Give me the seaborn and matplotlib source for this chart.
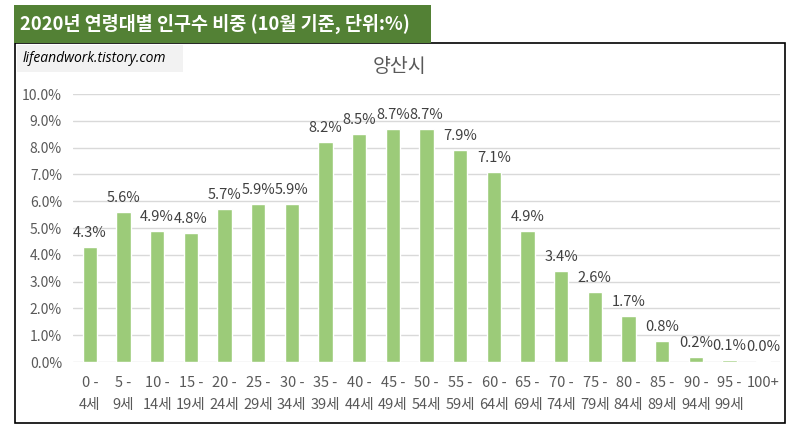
import matplotlib
matplotlib.use("Agg")
import matplotlib.pyplot as plt
import seaborn as sns
import pandas as pd
from matplotlib.patches import Rectangle

categories = ["0 -\n4세", "5 -\n9세", "10 -\n14세", "15 -\n19세", "20 -\n24세", "25 -\n29세",
              "30 -\n34세", "35 -\n39세", "40 -\n44세", "45 -\n49세", "50 -\n54세", "55 -\n59세",
              "60 -\n64세", "65 -\n69세", "70 -\n74세", "75 -\n79세", "80 -\n84세", "85 -\n89세",
              "90 -\n94세", "95 -\n99세", "100+"]
values = [4.3, 5.6, 4.9, 4.8, 5.7, 5.9, 5.9, 8.2, 8.5, 8.7, 8.7, 7.9, 7.1, 4.9, 3.4, 2.6,
          1.7, 0.8, 0.2, 0.07, 0.045]
yticks = [0, 1, 2, 3, 4, 5, 6, 7, 8, 9, 10]

sns.set_theme(style="white")
plt.rcParams['font.family'] = ['Noto Sans CJK KR', 'DejaVu Sans']

df = pd.DataFrame({"age": categories, "pct": values})

fig = plt.figure(figsize=(7.97, 4.30), dpi=100)
fig.patch.set_facecolor("white")

# outer chart border
fig.patches.append(Rectangle((15/797, 1-423/430), 770/797, 380/430, transform=fig.transFigure,
                             facecolor="white", edgecolor="black", linewidth=1.2, zorder=-2))
# green banner
fig.patches.append(Rectangle((14/797, 1-43/430), 417/797, 38/430, transform=fig.transFigure,
                             facecolor="#538135", edgecolor="none", zorder=-1))
fig.text(20/797, 1-24/430, "2020년 연령대별 인구수 비중 (10월 기준, 단위:%)", color="white",
         fontsize=13.3, fontweight="bold", va="center", ha="left")
# watermark box
fig.patches.append(Rectangle((17/797, 1-72/430), 166/797, 27/430, transform=fig.transFigure,
                             facecolor="#f2f2f2", edgecolor="none", zorder=-1))
fig.text(23/797, 1-59/430, "lifeandwork.tistory.com", color="black", fontsize=10,
         style="italic", va="center", ha="left", family=["Open Sans", "DejaVu Sans"])
fig.text(400/797, 1-67/430, "양산시", color="#595959", fontsize=14, va="center", ha="center")

ax = fig.add_axes([73/797, 1-362/430, 707/797, 268/430])
ax.set_zorder(5)
ax.set_facecolor("none")
sns.barplot(data=df, x="age", y="pct", color="#9ccb79", width=0.42, ax=ax, zorder=3,
            saturation=1)
ax.set_ylim(0, 10)
ax.set_xlim(-0.5, len(categories) - 0.5)
ax.set_yticks(yticks)
ax.set_yticklabels([f"{t:.1f}%" for t in yticks], color="#595959", fontsize=10)
ax.tick_params(axis="x", colors="#595959", labelsize=10.5, pad=10, length=0)
ax.tick_params(axis="y", pad=8, length=0)
for lab in ax.get_xticklabels():
    lab.set_linespacing(1.75)
    lab.set_va("top")
ax.grid(axis="y", color="#d9d9d9", linewidth=1, zorder=0)
ax.set_axisbelow(True)
for s in ax.spines.values():
    s.set_visible(False)
ax.set_xlabel("")
ax.set_ylabel("")
for i, v in enumerate(values):
    ax.annotate(f"{v:.1f}%", (i, v), xytext=(0, 5), textcoords="offset points",
                ha="center", va="bottom", fontsize=10.5, color="#404040")

fig.savefig("out.png", dpi=100)
